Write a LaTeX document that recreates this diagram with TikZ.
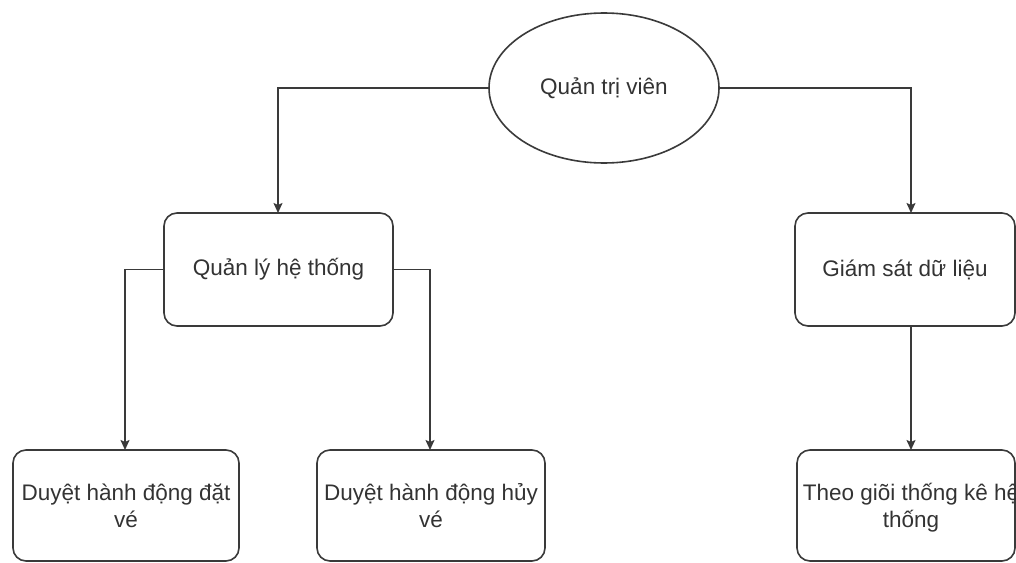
\documentclass[tikz,border=0pt]{standalone}
\usepackage{fontspec}
\setmainfont{Liberation Sans}
\usetikzlibrary{shapes.geometric,arrows.meta}
\definecolor{linegray}{HTML}{3A3A3A}
\definecolor{textgray}{HTML}{333333}
\tikzset{
  base/.style={draw=linegray, line width=1.6pt, fill=white, text=textgray,
    inner sep=0pt, outer sep=0pt, align=center,
    font=\fontsize{22.5}{27}\selectfont},
  oval/.style={base, ellipse, minimum width=230pt, minimum height=150pt},
  task/.style={base, rectangle, rounded corners=13pt},
  link/.style={draw=linegray, line width=1.6pt,
    -{Stealth[length=10pt,width=9pt,inset=2pt]}}
}
\begin{document}
\begin{tikzpicture}[x=1pt,y=-1pt]
  \useasboundingbox (0,0) rectangle (1016,562);
  \clip (0,0) rectangle (1016,562);

  % root
  \node[oval] (admin) at (604,88) {Quản trị viên};

  % second level
  \node[task, minimum width=229pt, minimum height=113pt] (sys) at (278.5,269.5) {Quản lý hệ thống};
  \node[task, minimum width=220pt, minimum height=113pt] (mon) at (905,269.5) {Giám sát dữ liệu};

  % third level
  \node[task, minimum width=226pt, minimum height=111pt] (book) at (126,505.5) {Duyệt hành động đặt\\vé};
  \node[task, minimum width=228pt, minimum height=111pt] (cancel) at (431,505.5) {Duyệt hành động hủy\\vé};
  \node[task, minimum width=218pt, minimum height=111pt] (stats) at (906,505.5) {};
  \node[font=\fontsize{22.5}{27}\selectfont, text=textgray, align=center, inner sep=0pt]
    (statstext) at (911,508) {Theo giõi thống kê hệ\\thống};

  % connector anchors
  \coordinate (sysin) at (278,213);
  \coordinate (monin) at (911,213);
  \coordinate (monout) at (911,326);
  \coordinate (bookin) at (125,450);
  \coordinate (cancelin) at (430,450);
  \coordinate (statsin) at (911,450);

  \draw[link] (admin.west) -| (sysin);
  \draw[link] (admin.east) -| (monin);
  \draw[link] (sys.west) -| (bookin);
  \draw[link] (sys.east) -| (cancelin);
  \draw[link] (monout) -- (statsin);
\end{tikzpicture}
\end{document}
